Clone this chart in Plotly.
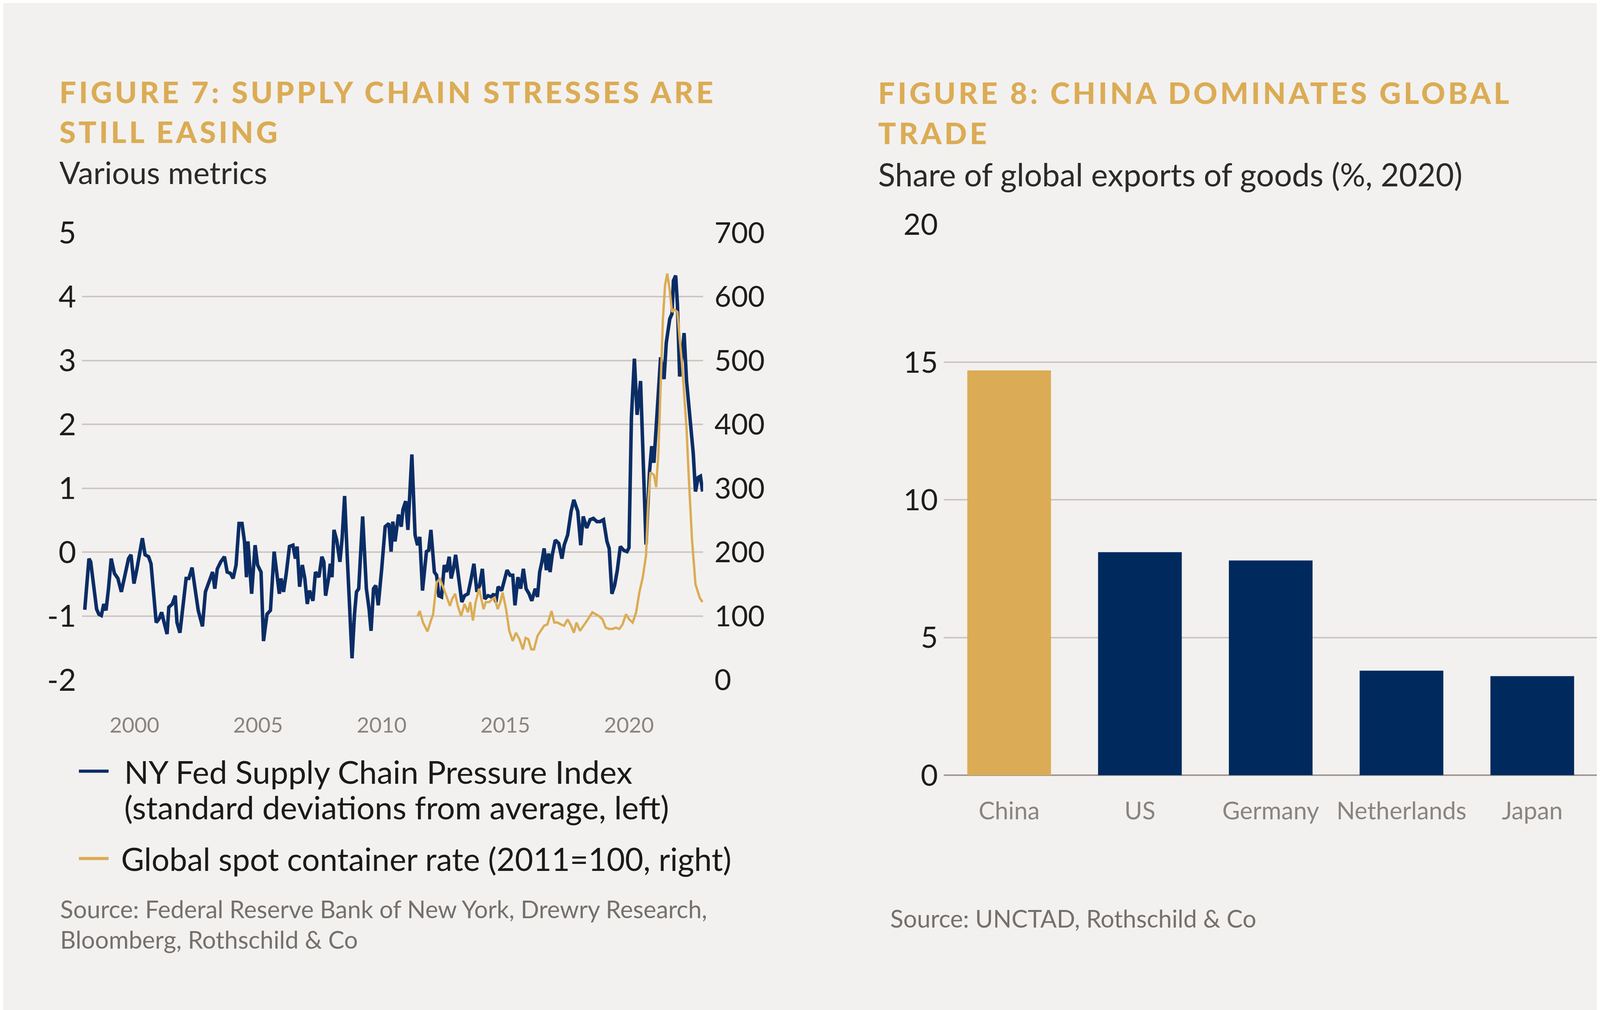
import plotly.graph_objects as go

# NY Fed Supply Chain Pressure Index (std devs, left axis)
nyfed_year = [
    1997.99, 1998.16, 1998.23, 1998.37, 1998.47, 1998.56, 1998.66, 1998.76, 1998.85, 1998.95,
    1999.06, 1999.19, 1999.33, 1999.47, 1999.62, 1999.76, 1999.86, 1999.98, 2000.10, 2000.19,
    2000.32, 2000.43, 2000.57, 2000.67, 2000.77, 2000.88, 2001.00, 2001.10, 2001.20, 2001.32,
    2001.39, 2001.53, 2001.65, 2001.72, 2001.84, 2001.96, 2002.09, 2002.20, 2002.33, 2002.44,
    2002.58, 2002.75, 2002.87, 2003.01, 2003.16, 2003.25, 2003.35, 2003.49, 2003.64, 2003.75,
    2003.88, 2003.99, 2004.11, 2004.23, 2004.35, 2004.45, 2004.53, 2004.59, 2004.74, 2004.88,
    2004.98, 2005.12, 2005.22, 2005.36, 2005.50, 2005.65, 2005.74, 2005.86, 2005.93, 2006.03,
    2006.14, 2006.27, 2006.41, 2006.51, 2006.58, 2006.68, 2006.79, 2006.89, 2006.99, 2007.08,
    2007.22, 2007.32, 2007.46, 2007.58, 2007.66, 2007.73, 2007.85, 2007.92, 2007.99, 2008.07,
    2008.18, 2008.31, 2008.40, 2008.50, 2008.61, 2008.73, 2008.80, 2008.90, 2008.98, 2009.07,
    2009.23, 2009.38, 2009.49, 2009.57, 2009.67, 2009.76, 2009.86, 2010.00, 2010.14, 2010.29,
    2010.38, 2010.45, 2010.54, 2010.68, 2010.79, 2010.86, 2010.97, 2011.06, 2011.22, 2011.35,
    2011.45, 2011.54, 2011.65, 2011.81, 2011.90, 2011.99, 2012.13, 2012.22, 2012.31, 2012.42,
    2012.53, 2012.62, 2012.73, 2012.81, 2012.90, 2012.99, 2013.12, 2013.24, 2013.35, 2013.49,
    2013.62, 2013.73, 2013.85, 2013.96, 2014.07, 2014.17, 2014.30, 2014.44, 2014.53, 2014.62,
    2014.71, 2014.85, 2014.94, 2015.07, 2015.19, 2015.30, 2015.39, 2015.51, 2015.62, 2015.73,
    2015.84, 2015.96, 2016.07, 2016.21, 2016.30, 2016.39, 2016.48, 2016.57, 2016.66, 2016.75,
    2016.81, 2016.90, 2017.02, 2017.16, 2017.29, 2017.38, 2017.52, 2017.66, 2017.77, 2017.93,
    2018.05, 2018.15, 2018.29, 2018.43, 2018.56, 2018.70, 2018.83, 2018.97, 2019.11, 2019.20,
    2019.31, 2019.42, 2019.53, 2019.65, 2019.79, 2019.92, 2020.00, 2020.10, 2020.22, 2020.33,
    2020.47, 2020.56, 2020.69, 2020.83, 2020.92, 2021.01, 2021.15, 2021.28, 2021.42, 2021.51,
    2021.65, 2021.74, 2021.80, 2021.89, 2021.96, 2022.05, 2022.14, 2022.23, 2022.33, 2022.46,
    2022.60, 2022.69, 2022.80, 2022.89, 2022.98,
]
nyfed_value = [
    -0.90, -0.10, -0.15, -0.57, -0.89, -0.97, -0.99, -0.81, -0.91, -0.57,
    -0.10, -0.33, -0.41, -0.62, -0.36, -0.10, -0.04, -0.49, -0.26, -0.07,
    0.22, -0.04, -0.07, -0.18, -0.57, -1.10, -1.04, -0.94, -1.10, -1.28,
    -0.86, -0.81, -0.68, -1.10, -1.26, -0.89, -0.41, -0.41, -0.24, -0.54,
    -0.91, -1.16, -0.62, -0.47, -0.31, -0.57, -0.26, -0.15, -0.07, -0.31,
    -0.33, -0.41, -0.20, 0.45, 0.45, 0.17, -0.39, 0.17, -0.65, 0.11,
    -0.20, -0.31, -1.39, -0.97, -0.91, 0.01, -0.28, -0.65, -0.41, -0.62,
    -0.33, 0.09, 0.11, -0.10, 0.09, -0.54, -0.20, -0.41, -0.81, -0.60,
    -0.76, -0.31, -0.39, -0.07, -0.15, -0.68, -0.41, -0.18, -0.39, 0.35,
    0.19, -0.15, 0.22, 0.88, -0.10, -0.97, -1.66, -0.97, -0.62, -0.57,
    0.56, -0.57, -0.89, -1.23, -0.57, -0.52, -0.83, -0.26, 0.40, 0.45,
    0.01, 0.48, 0.17, 0.59, 0.40, 0.67, 0.80, 0.35, 1.53, 0.27,
    0.11, 0.24, -0.60, 0.01, 0.03, 0.35, -0.31, -0.36, -0.68, -0.70,
    -0.20, -0.31, -0.07, -0.41, -0.26, -0.04, -0.44, -0.78, -0.68, -0.65,
    -0.41, -0.18, -0.62, -0.52, -0.26, -0.73, -0.68, -0.70, -0.65, -0.78,
    -0.54, -0.60, -0.47, -0.28, -0.36, -0.36, -0.83, -0.39, -0.57, -0.26,
    -0.57, -0.65, -0.76, -0.57, -0.70, -0.31, -0.15, 0.06, -0.28, -0.02,
    -0.31, -0.04, 0.19, 0.14, -0.10, 0.11, 0.27, 0.64, 0.82, 0.64,
    0.11, 0.56, 0.38, 0.51, 0.53, 0.48, 0.48, 0.51, 0.17, 0.06,
    -0.65, -0.52, -0.28, 0.09, 0.03, 0.01, 0.07, 2.11, 3.03, 2.15,
    2.68, 1.74, 0.12, 1.25, 1.66, 1.40, 2.30, 3.05, 2.71, 3.28,
    3.65, 3.73, 4.25, 4.33, 3.88, 2.75, 3.05, 3.43, 2.68, 2.11,
    1.55, 0.95, 1.17, 1.19, 0.95,
]

# Global spot container rate (2011=100, right axis)
container_year = [
    2011.45, 2011.54, 2011.67, 2011.85, 2011.99, 2012.08, 2012.22, 2012.35, 2012.49, 2012.62,
    2012.76, 2012.85, 2012.97, 2013.08, 2013.21, 2013.35, 2013.49, 2013.58, 2013.69, 2013.80,
    2013.94, 2014.03, 2014.12, 2014.21, 2014.35, 2014.48, 2014.57, 2014.69, 2014.80, 2014.89,
    2015.03, 2015.16, 2015.30, 2015.43, 2015.57, 2015.71, 2015.82, 2015.93, 2016.05, 2016.16,
    2016.30, 2016.43, 2016.57, 2016.70, 2016.87, 2016.98, 2017.11, 2017.25, 2017.38, 2017.52,
    2017.66, 2017.77, 2017.88, 2018.02, 2018.15, 2018.34, 2018.52, 2018.65, 2018.79, 2018.93,
    2019.06, 2019.20, 2019.33, 2019.47, 2019.61, 2019.74, 2019.88, 2020.01, 2020.15, 2020.29,
    2020.42, 2020.56, 2020.69, 2020.78, 2020.87, 2021.01, 2021.10, 2021.19, 2021.28, 2021.37,
    2021.46, 2021.55, 2021.65, 2021.74, 2021.83, 2021.96, 2022.05, 2022.14, 2022.23, 2022.33,
    2022.42, 2022.55, 2022.69, 2022.87, 2022.98,
]
container_value = [
    100, 108, 90, 76, 93, 103, 153, 158, 145, 132,
    116, 127, 135, 116, 100, 119, 106, 122, 93, 122,
    143, 127, 111, 122, 122, 127, 129, 111, 122, 137,
    111, 77, 61, 74, 64, 48, 66, 64, 48, 48,
    69, 77, 85, 87, 108, 90, 90, 87, 85, 95,
    85, 74, 90, 77, 85, 95, 106, 103, 100, 95,
    82, 80, 80, 82, 80, 87, 103, 95, 90, 106,
    137, 161, 195, 280, 325, 321, 302, 355, 468, 562,
    618, 636, 610, 576, 580, 576, 535, 498, 449, 393,
    317, 220, 150, 128, 122,
]

# Share of global exports of goods (%, 2020)
countries = ["China", "US", "Germany", "Netherlands", "Japan"]
export_share = [14.7, 8.1, 7.8, 3.8, 3.6]

left_ticks = [-2, -1, 0, 1, 2, 3, 4, 5]
left_ticktext = ["-2", "-1", "0", "1", "2", "3", "4", "5"]
year_ticks = [2000, 2005, 2010, 2015, 2020]

W, H = 4224, 2585
OFF = 8  # page body margin, pulled back out of the layout
BG = "#F3F1EF"
GOLD = "#DBAC55"
NAVY = "#002A5E"
LINE_BLUE = "#0B2D66"
GRID = "#CEC7C3"
FONT = "Lato"


def px(x):
    return (x - OFF) / W


def py(y):
    return 1 - (y - OFF) / H


fig = go.Figure()

fig.add_trace(go.Scatter(
    x=nyfed_year, y=nyfed_value, mode="lines",
    line=dict(color=LINE_BLUE, width=9),
    xaxis="x", yaxis="y", showlegend=False,
))
fig.add_trace(go.Scatter(
    x=container_year, y=container_value, mode="lines",
    line=dict(color=GOLD, width=6),
    xaxis="x", yaxis="y2", showlegend=False,
))
fig.add_trace(go.Bar(
    x=countries, y=export_share,
    marker=dict(color=[GOLD if c == "China" else NAVY for c in countries], line=dict(width=0)),
    xaxis="x3", yaxis="y3", showlegend=False,
))

annotations = []


def text(x, y, s, size, color, weight="normal", spacing=None):
    if spacing:
        s = '<span style="letter-spacing:%dpx">%s</span>' % (spacing, s)
    annotations.append(dict(
        xref="paper", yref="paper", x=px(x), y=py(y), text=s,
        xanchor="left", yanchor="middle", showarrow=False,
        font=dict(family=FONT, size=size, color=color, weight=weight),
    ))


# titles
text(150, 191, "FIGURE 7: SUPPLY CHAIN STRESSES ARE", 76, GOLD, 900, 7)
text(150, 297, "STILL EASING", 76, GOLD, 900, 7)
text(150, 405, "Various metrics", 79, "#2a2a2a")
text(2246, 193, "FIGURE 8: CHINA DOMINATES GLOBAL", 76, GOLD, 900, 7)
text(2246, 300, "TRADE", 76, GOLD, 900, 7)
text(2246, 410, "Share of global exports of goods (%, 2020)", 81, "#2a2a2a")

# legend
text(316, 1996, "NY Fed Supply Chain Pressure Index", 82, "#1a1a1a")
text(316, 2091, "(standard deviations from average, left)", 82, "#1a1a1a")
text(308, 2228, "Global spot container rate (2011=100, right)", 81, "#1a1a1a")

# sources
text(152, 2362, "Source: Federal Reserve Bank of New York, Drewry Research,", 62, "#75706c")
text(152, 2443, "Bloomberg, Rothschild & Co", 62, "#75706c")
text(2277, 2387, "Source: UNCTAD, Rothschild & Co", 62, "#75706c")

shapes = [
    dict(type="line", xref="paper", yref="paper", x0=px(202), x1=px(278),
         y0=py(1996), y1=py(1996), line=dict(color=LINE_BLUE, width=8)),
    dict(type="line", xref="paper", yref="paper", x0=px(202), x1=px(278),
         y0=py(2228), y1=py(2228), line=dict(color=GOLD, width=8)),
]

fig.update_layout(
    width=W, height=H,
    margin=dict(l=0, r=0, t=0, b=0),
    paper_bgcolor=BG, plot_bgcolor=BG,
    font=dict(family=FONT, color="#1d1d1d"),
    annotations=annotations,
    shapes=shapes,
    bargap=0.36,
    xaxis=dict(
        domain=[px(210), px(1800)], range=[1997.88, 2023.0], anchor="y",
        tickvals=year_ticks, showgrid=False, zeroline=False, showline=False,
        ticks="", tickfont=dict(size=55, color="#8a8480"), ticklabelstandoff=78,
    ),
    yaxis=dict(
        domain=[py(1754), py(566)], range=[-2, 5], anchor="x",
        tickvals=left_ticks, ticktext=left_ticktext,
        showgrid=True, gridcolor=GRID, gridwidth=4, zeroline=False, showline=False,
        ticks="", tickfont=dict(size=78, color="#1d1d1d"), ticklabelstandoff=14,
    ),
    yaxis2=dict(
        overlaying="y", side="right", anchor="x", range=[0, 700], dtick=100,
        showgrid=False, zeroline=False, showline=False,
        ticks="", tickfont=dict(size=74, color="#1d1d1d"), ticklabelstandoff=28,
    ),
    xaxis3=dict(
        domain=[px(2416), px(4090)], anchor="y3",
        showgrid=False, zeroline=False, showline=False,
        ticks="", tickfont=dict(size=62, color="#8a8480"), ticklabelstandoff=50,
    ),
    yaxis3=dict(
        domain=[py(2007), py(544)], range=[0, 20], dtick=5, anchor="x3",
        showgrid=True, gridcolor=GRID, gridwidth=4,
        zeroline=True, zerolinecolor="#9e9793", zerolinewidth=4, showline=False,
        ticks="", tickfont=dict(size=76, color="#1d1d1d"), ticklabelstandoff=14,
    ),
)

fig.write_html("out.html")
